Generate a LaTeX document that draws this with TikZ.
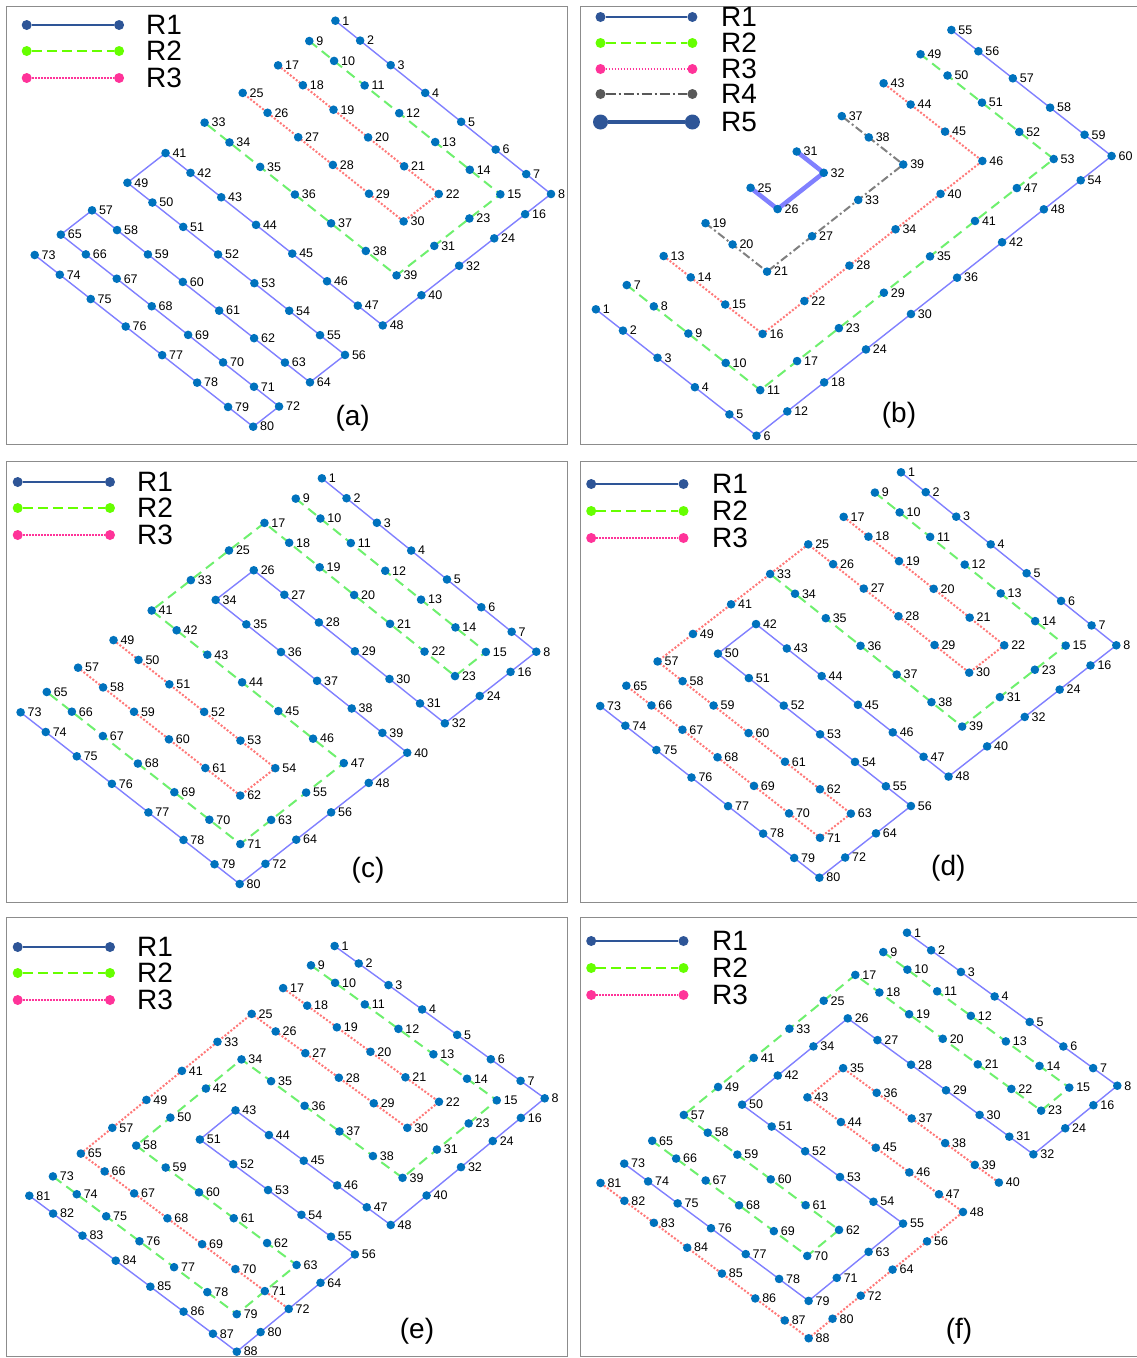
\documentclass[tikz,border=0pt]{standalone}
\usepackage{fontspec}
\setmainfont{Liberation Sans}
\definecolor{dotblue}{RGB}{0,114,189}
\definecolor{lblue}{RGB}{128,128,255}
\definecolor{lgreen}{RGB}{110,240,110}
\definecolor{lpink}{RGB}{255,120,120}
\definecolor{lgray}{RGB}{128,128,128}
\definecolor{legblue}{RGB}{46,85,151}
\definecolor{leggreen}{RGB}{102,255,0}
\definecolor{legpink}{RGB}{255,51,153}
\definecolor{leggray}{RGB}{89,89,89}
\definecolor{framec}{RGB}{140,140,140}
\newcommand\labfont{\fontsize{12.5}{13}\selectfont}
\newcommand\bigfont{\fontsize{28}{30}\selectfont}
\newcommand\corners[8]{\def\cAx{#1}\def\cAy{#2}\def\cBx{#3}\def\cBy{#4}\def\cCx{#5}\def\cCy{#6}\def\cDx{#7}\def\cDy{#8}}
\newcommand\mkgrid[3]{%
  \foreach \r in {1,...,#2}{%
    \foreach \c in {1,...,#3}{%
      \pgfmathsetmacro\myT{(\r-1)/(#2-1)}%
      \pgfmathsetmacro\myS{(\c-1)/(#3-1)}%
      \pgfmathsetmacro\fT{0.7*\myT+0.15*(1-cos(180*\myT))}%
      \pgfmathsetmacro\fS{0.7*\myS+0.15*(1-cos(180*\myS))}%
      \pgfmathsetmacro\X{(1-\fS)*(1-\fT)*\cAx+\fS*(1-\fT)*\cBx+(1-\fS)*\fT*\cCx+\fS*\fT*\cDx}%
      \pgfmathsetmacro\Y{(1-\fS)*(1-\fT)*\cAy+\fS*(1-\fT)*\cBy+(1-\fS)*\fT*\cCy+\fS*\fT*\cDy}%
      \pgfmathtruncatemacro\k{(\r-1)*#3+\c}%
      \coordinate (#1\k) at (\X,\Y);%
    }%
  }%
}
\newcommand\mkdots[2]{%
  \foreach \k in {1,...,#2}{%
    \node[gpt] (#1d\k) at (#1\k) {};%
    \node[lab] (#1l\k) at ([xshift=6.8pt]#1\k) {\k};%
  }%
}
\newcommand\chain[4]{\draw[#1] (#2#3) \foreach \n in {#4}{ -- (#2\n)};}
\newcommand\legrow[7]{%
  \node[#6] (#1L) at (#2,#4) {};%
  \node[#6] (#1R) at (#3,#4) {};%
  \draw[#5] (#1L) -- (#1R);%
  \node[bigtxt] (#1T) at (\legtx,#4) {#7};}
\begin{document}
\begin{tikzpicture}[x=1pt,y=-1pt,
  gpt/.style={circle,fill=dotblue,inner sep=0pt,minimum size=8.6pt},
  lab/.style={font=\labfont,inner sep=0pt,anchor=west},
  bigtxt/.style={font=\bigfont,inner sep=0pt,anchor=west},
  ptxt/.style={font=\bigfont,inner sep=0pt,anchor=center},
  rone/.style={draw=lblue,line width=1.4pt},
  rtwo/.style={draw=lgreen,line width=2pt,dash pattern=on 10pt off 6pt},
  rthree/.style={draw=lpink,line width=2pt,dash pattern=on 2pt off 1.8pt},
  rfour/.style={draw=lgray,line width=2pt,dash pattern=on 8pt off 3pt on 2pt off 3pt},
  rfive/.style={draw=lblue,line width=4.5pt},
  frame/.style={draw=framec,line width=1pt},
  ldone/.style={circle,fill=legblue,inner sep=0pt,minimum size=10pt},
  ldtwo/.style={circle,fill=leggreen,inner sep=0pt,minimum size=10pt},
  ldthree/.style={circle,fill=legpink,inner sep=0pt,minimum size=10pt},
  ldfour/.style={circle,fill=leggray,inner sep=0pt,minimum size=10pt},
  ldfive/.style={circle,fill=legblue,inner sep=0pt,minimum size=15pt},
  llone/.style={draw=legblue,line width=1.8pt},
  lltwo/.style={draw=leggreen,line width=2pt,dash pattern=on 10pt off 5pt},
  llthree/.style={draw=legpink,line width=1.8pt,dash pattern=on 1.6pt off 1.4pt},
  llfour/.style={draw=leggray,line width=2pt,dash pattern=on 10pt off 3pt on 2pt off 3pt},
  llfive/.style={draw=legblue,line width=4.5pt}]
\useasboundingbox (0,0) rectangle (1136,1358);
\fill[white] (0,0) rectangle (1136,1358);
% frames
\draw[frame] (6.5,6) rectangle (567,444.5);
\draw[frame] (580,6) rectangle (1138,444.5);
\draw[frame] (6.5,461) rectangle (567,902);
\draw[frame] (580,461) rectangle (1138,902);
\draw[frame] (6.5,917) rectangle (567,1356.5);
\draw[frame] (580,917) rectangle (1138,1356.5);

% ---------------- panel (a)
\corners{335.4}{20.7}{551}{194}{34.7}{255}{253.2}{426.7}
\mkgrid{a}{10}{8}
\chain{rone}{a}{1}{2,3,4,5,6,7,8,16,24,32,40,48,47,46,45,44,43,42,41,49,50,51,52,53,54,55,56,64,63,62,61,60,59,58,57,65,66,67,68,69,70,71,72,80,79,78,77,76,75,74,73}
\chain{rtwo}{a}{9}{10,11,12,13,14,15,23,31,39,38,37,36,35,34,33}
\chain{rthree}{a}{17}{18,19,20,21,22,30,29,28,27,26,25}
\mkdots{a}{80}
\def\legtx{146}
\legrow{aA}{26.7}{119.1}{25}{llone}{ldone}{R1}
\legrow{aB}{26.7}{119.1}{51}{lltwo}{ldtwo}{R2}
\legrow{aC}{26.7}{119.1}{78}{llthree}{ldthree}{R3}
\node[ptxt] (pa) at (352.7,418) {(a)};

% ---------------- panel (b)
\corners{595.9}{309.3}{756.5}{435.7}{951.4}{30}{1111.6}{156}
\mkgrid{b}{10}{6}
\chain{rone}{b}{1}{2,3,4,5,6,12,18,24,30,36,42,48,54,60,59,58,57,56,55}
\chain{rtwo}{b}{7}{8,9,10,11,17,23,29,35,41,47,53,52,51,50,49}
\chain{rthree}{b}{13}{14,15,16,22,28,34,40,46,45,44,43}
\chain{rfour}{b}{19}{20,21,27,33,39,38,37}
\chain{rfive}{b}{25}{26,32,31}
\mkdots{b}{60}
\def\legtx{721}
\legrow{bA}{600.5}{692.4}{17}{llone}{ldone}{R1}
\legrow{bB}{600.5}{692.4}{43}{lltwo}{ldtwo}{R2}
\legrow{bC}{600.5}{692.4}{69}{llthree}{ldthree}{R3}
\legrow{bD}{600.5}{692.4}{94}{llfour}{ldfour}{R4}
\legrow{bE}{600.5}{692.4}{122}{llfive}{ldfive}{R5}
\node[ptxt] (pb) at (899,415) {(b)};

% ---------------- panel (c)
\corners{321.9}{478.3}{536.3}{651.7}{20.6}{712.3}{239.7}{884}
\mkgrid{c}{10}{8}
\chain{rone}{c}{1}{2,3,4,5,6,7,8,16,24,32,31,30,29,28,27,26,34,35,36,37,38,39,40,48,56,64,72,80,79,78,77,76,75,74,73}
\chain{rtwo}{c}{9}{10,11,12,13,14,15,23,22,21,20,19,18,17,25,33,41,42,43,44,45,46,47,55,63,71,70,69,68,67,66,65}
\chain{rthree}{c}{49}{50,51,52,53,54,62,61,60,59,58,57}
\mkdots{c}{80}
\def\legtx{137}
\legrow{cA}{17.7}{110}{482}{llone}{ldone}{R1}
\legrow{cB}{17.7}{110}{508}{lltwo}{ldtwo}{R2}
\legrow{cC}{17.7}{110}{535}{llthree}{ldthree}{R3}
\node[ptxt] (pc) at (368,870.5) {(c)};

% ---------------- panel (d)
\corners{901}{472.3}{1116.3}{645.3}{600.2}{706}{819.4}{877.7}
\mkgrid{d}{10}{8}
\chain{rone}{d}{1}{2,3,4,5,6,7,8,16,24,32,40,48,47,46,45,44,43,42,50,51,52,53,54,55,56,64,72,80,79,78,77,76,75,74,73}
\chain{rtwo}{d}{9}{10,11,12,13,14,15,23,31,39,38,37,36,35,34,33}
\chain{rthree}{d}{17}{18,19,20,21,22,30,29,28,27,26,25,33,41,49,57,58,59,60,61,62,63,71,70,69,68,67,66,65}
\mkdots{d}{80}
\def\legtx{712}
\legrow{dA}{591.2}{683.5}{484}{llone}{ldone}{R1}
\legrow{dB}{591.2}{683.5}{511}{lltwo}{ldtwo}{R2}
\legrow{dC}{591.2}{683.5}{538}{llthree}{ldthree}{R3}
\node[ptxt] (pd) at (948.3,868) {(d)};

% ---------------- panel (e)
\corners{334.6}{946}{544.7}{1098.3}{29.3}{1195.7}{236.8}{1351.7}
\mkgrid{e}{11}{8}
\chain{rone}{e}{1}{2,3,4,5,6,7,8,16,24,32,40,48,47,46,45,44,43,51,52,53,54,55,56,64,72,80,88,87,86,85,84,83,82,81}
\chain{rtwo}{e}{9}{10,11,12,13,14,15,23,31,39,38,37,36,35,34,42,50,58,59,60,61,62,63,71,79,78,77,76,75,74,73}
\chain{rthree}{e}{17}{18,19,20,21,22,30,29,28,27,26,25,33,41,49,57,65,66,67,68,69,70,71,72}
\mkdots{e}{88}
\def\legtx{137}
\legrow{eA}{17.7}{110}{947}{llone}{ldone}{R1}
\legrow{eB}{17.7}{110}{973}{lltwo}{ldtwo}{R2}
\legrow{eC}{17.7}{110}{1000}{llthree}{ldthree}{R3}
\node[ptxt] (pe) at (417,1331.7) {(e)};

% ---------------- panel (f)
\corners{907}{932.7}{1117.3}{1085.7}{600.5}{1183}{808.7}{1338.3}
\mkgrid{f}{11}{8}
\chain{rone}{f}{1}{2,3,4,5,6,7,8,16,24,32,31,30,29,28,27,26,34,42,50,51,52,53,54,55,63,71,79,78,77,76,75,74,73}
\chain{rtwo}{f}{9}{10,11,12,13,14,15,23,22,21,20,19,18,17,25,33,41,49,57,58,59,60,61,62,70,69,68,67,66,65}
\chain{rthree}{f}{40}{39,38,37,36,35,43,44,45,46,47,48,56,64,72,80,88,87,86,85,84,83,82,81}
\mkdots{f}{88}
\def\legtx{712}
\legrow{fA}{591.2}{683.5}{941}{llone}{ldone}{R1}
\legrow{fB}{591.2}{683.5}{968}{lltwo}{ldtwo}{R2}
\legrow{fC}{591.2}{683.5}{995}{llthree}{ldthree}{R3}
\node[ptxt] (pf) at (959,1331.7) {(f)};
\end{tikzpicture}
\end{document}
